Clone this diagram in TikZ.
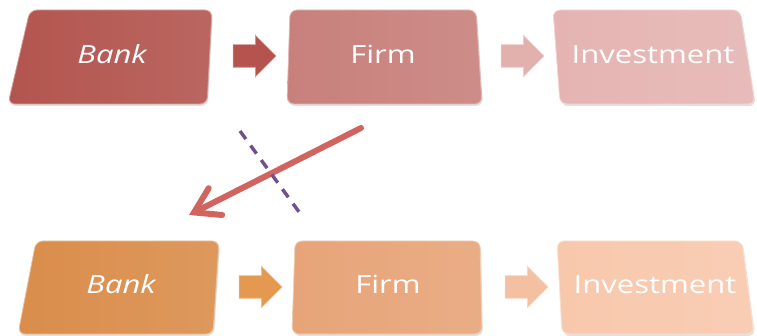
\documentclass[tikz,border=0pt]{standalone}
\usepackage{fontspec}
\newfontfamily\panelfont{Open Sans}
\usepackage{xcolor}
\usetikzlibrary{shapes.arrows, arrows.meta, calc, positioning}

\definecolor{bankred}{RGB}{179,85,79}
\definecolor{firmred}{RGB}{200,128,123}
\definecolor{invred}{RGB}{229,180,178}
\definecolor{bankorange}{RGB}{218,141,75}
\definecolor{firmorange}{RGB}{231,164,120}
\definecolor{invorange}{RGB}{248,200,172}
\definecolor{arrowredA}{RGB}{181,84,78}
\definecolor{arrowredB}{RGB}{226,176,173}
\definecolor{arroworangeA}{RGB}{228,152,80}
\definecolor{arroworangeB}{RGB}{243,192,162}
\definecolor{flowred}{RGB}{209,100,95}
\definecolor{cutpurple}{RGB}{112,80,140}

\begin{document}
\begin{tikzpicture}[x=1pt, y=-1pt,
    panel/.style={rounded corners=7pt, left color=#1, right color=#1!90!white,
                  draw=#1!55!white, line width=0.8pt},
    panelshadow/.style={rounded corners=7pt, fill=black!12},
    label/.style={font=\panelfont\fontsize{25}{30}\selectfont, text=white,
                  anchor=base, inner sep=0pt},
    blockarrow/.style={single arrow, fill=#1, draw=#1!60!white, line width=0.6pt,
                  inner xsep=0pt, inner ysep=11pt, minimum width=0pt,
                  minimum height=43pt, single arrow head extend=9.5pt},
    flow/.style={flowred, line width=6pt, line cap=round,
                 -{Straight Barb[length=24pt, width=30pt, line cap=round]}},
    cutline/.style={cutpurple, line width=3.4pt, dash pattern=on 10pt off 8pt}
  ]
    \useasboundingbox (0,0) rectangle (757,336);

    % The six panels (corners: top-left, top-right, bottom-right, bottom-left)
    \foreach \tl/\tr/\br/\bl/\yt/\yb/\col in {
        30/212/207/8/10/104/bankred,
        290/476/482/287/10/104/firmred,
        553/740/755/560/10/104/invred,
        36/219/213/18/241/334/bankorange,
        295/480/482/292/241/334/firmorange,
        557/742/754/562/241/334/invorange} {
        \fill[panelshadow] (\tl+1,\yt+2) -- (\tr+1,\yt+2) -- (\br+1,\yb+2)
            -- (\bl+1,\yb+2) -- cycle;
        \path[panel=\col] (\tl,\yt) -- (\tr,\yt) -- (\br,\yb) -- (\bl,\yb) -- cycle;
    }

    % Panel texts
    \node[label] (bank1) at (112,64) {\scalebox{1.24}[1]{\itshape Bank}};
    \node[label] (firm1) at (383,64) {\scalebox{1.24}[1]{Firm}};
    \node[label] (inv1)  at (653,64) {\scalebox{1.24}[1]{Investment}};
    \node[label] (bank2) at (121,294) {\scalebox{1.24}[1]{\itshape Bank}};
    \node[label] (firm2) at (388,294) {\scalebox{1.24}[1]{Firm}};
    \node[label] (inv2)  at (655,294) {\scalebox{1.24}[1]{Investment}};

    % Block arrows between the panels
    \node[blockarrow=arrowredA]    (step1) at (249,56)  {};
    \node[blockarrow=arrowredB]    (step2) at (517,56)  {};
    \node[blockarrow=arroworangeA] (step3) at (255,287) {};
    \node[blockarrow=arroworangeB] (step4) at (521,287) {};

    % Diagonal flow and the dashed cut
    \coordinate (flowA) at (361,128);
    \coordinate (flowB) at (189,215);
    \coordinate (cutA) at (240,131);
    \coordinate (cutB) at (302,216);
    \draw[flow] (flowA) -- (flowB);
    \draw[cutline] (cutA) -- (cutB);
\end{tikzpicture}
\end{document}
